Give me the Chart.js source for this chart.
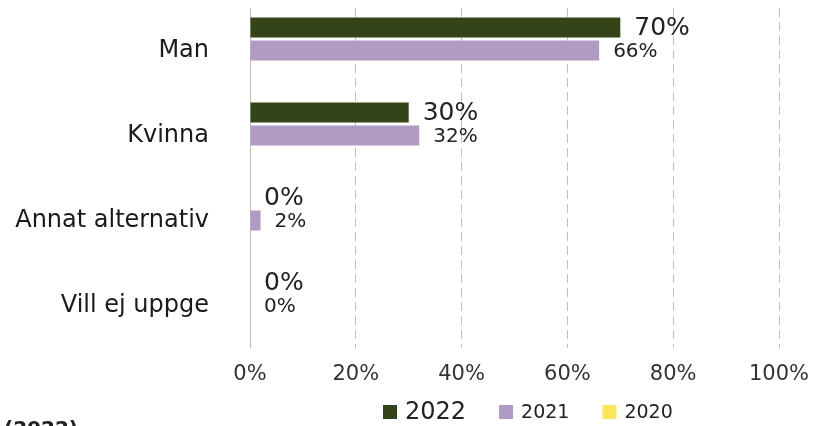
<!DOCTYPE html>
<html>
<head>
<meta charset="utf-8">
<script src="https://cdn.jsdelivr.net/npm/chart.js@4"></script>
<style>
    html, body { margin: 0; padding: 0; background: #fff; }
    #wrap { width: 813px; height: 426px; }
</style>
</head>
<body>
<div id="wrap"><canvas id="gender-chart" width="813" height="426"></canvas></div>
<script>
// categories and values (percent)
const categories = ["Man", "Kvinna", "Annat alternativ", "Vill ej uppge"];
const years = ["2022", "2021", "2020"];
const values2022 = [70, 30, 0, 0];
const values2021 = [66, 32, 2, 0];
const values2020 = [0, 0, 0, 0];
const xTicks = [0, 20, 40, 60, 80, 100];

const colours = ["#344418", "#b19bc3", "#fbe55a"];
const fontFamily = "'DejaVu Sans', Verdana, sans-serif";

// value labels next to bar ends, bigger for the latest year
const barLabels = {
    id: "barLabels",
    afterDatasetsDraw(chart) {
        const ctx = chart.ctx;
        const sizes = [25, 20];
        ctx.save();
        ctx.fillStyle = "#222";
        ctx.textAlign = "left";
        ctx.textBaseline = "middle";
        for (let d = 0; d < 2; d++) {
            const meta = chart.getDatasetMeta(d);
            ctx.font = sizes[d] + "px " + fontFamily;
            meta.data.forEach((bar, i) => {
                const v = chart.data.datasets[d].data[i];
                ctx.fillText(v + "%", bar.x + 14, bar.y + 1);
            });
        }
        ctx.restore();
    }
};

// legend drawn under the axis, first entry larger
const bottomLegend = {
    id: "bottomLegend",
    afterDraw(chart) {
        const ctx = chart.ctx;
        const sizes = [24, 19, 19];
        const y = 412;
        ctx.save();
        ctx.textBaseline = "middle";
        let x = 383;
        chart.data.datasets.forEach((ds, i) => {
            ctx.fillStyle = ds.backgroundColor;
            ctx.fillRect(x, y - 7, 14, 14);
            x += 22;
            ctx.font = sizes[i] + "px " + fontFamily;
            ctx.fillStyle = "#222";
            ctx.fillText(ds.label, x, y + 1);
            x += ctx.measureText(ds.label).width + 33;
        });
        // cropped source note at the bottom edge
        ctx.font = "bold 20px " + fontFamily;
        ctx.fillStyle = "#222";
        ctx.textBaseline = "top";
        ctx.fillText("(2022)", 4, 420);
        ctx.restore();
    }
};

new Chart(document.getElementById("gender-chart").getContext("2d"), {
    type: "bar",
    data: {
        labels: categories,
        datasets: [
            { label: years[0], data: values2022, backgroundColor: colours[0] },
            { label: years[1], data: values2021, backgroundColor: colours[1] },
            { label: years[2], data: values2020, backgroundColor: colours[2] },
        ],
    },
    options: {
        indexAxis: "y",
        responsive: false,
        animation: false,
        categoryPercentage: 0.81,
        barPercentage: 0.87,
        layout: { padding: { top: 8, right: 34, bottom: 0, left: 0 } },
        plugins: {
            legend: { display: false },
            tooltip: { enabled: false },
        },
        scales: {
            x: {
                min: 0,
                max: 100,
                afterBuildTicks: (scale) => {
                    scale.ticks = xTicks.map(v => ({ value: v }));
                },
                afterFit: (scale) => {
                    scale.height = 78;
                    scale.paddingLeft = 0;
                    scale.paddingRight = 0;
                },
                ticks: {
                    callback: (v) => v + "%",
                    color: "#333",
                    padding: 14,
                    font: { family: fontFamily, size: 21 },
                },
                grid: {
                    drawTicks: false,
                    color: (c) => c.tick && c.tick.value === 0 ? "#bdbdbd" : "#c0c0c0",
                    lineWidth: 1,
                },
                border: {
                    display: false,
                    dash: (c) => c.tick && c.tick.value === 0 ? [] : [9, 5],
                },
            },
            y: {
                afterFit: (scale) => {
                    scale.width = 250;
                    // tick padding would otherwise push the plot down
                    scale.paddingTop = 0;
                    scale.paddingBottom = 0;
                },
                ticks: {
                    color: "#1a1a1a",
                    padding: 33,
                    font: { family: fontFamily, size: 24 },
                },
                grid: { display: false },
                border: { display: false },
            },
        },
    },
    plugins: [barLabels, bottomLegend],
});
</script>
</body>
</html>
